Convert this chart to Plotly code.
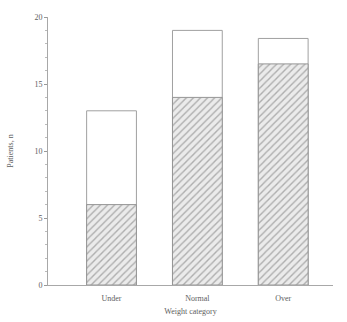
import plotly.graph_objects as go

# weight groups and patient counts
categories = ["Under", "Normal", "Over"]
total_patients = [13, 19, 18.4]
hatched_patients = [6, 14, 16.5]

txt = "#5e5e5e"

fig = go.Figure()

# full height bar, left white with a thin outline
fig.add_trace(go.Bar(
    x=categories, y=total_patients,
    marker=dict(color="white", line=dict(color="#a0a0a0", width=1)),
    width=0.58, showlegend=False, hoverinfo="skip",
))

# hatched part on the bottom
fig.add_trace(go.Bar(
    x=categories, y=hatched_patients,
    marker=dict(color="#ebebeb",
                line=dict(color="#959595", width=1),
                pattern=dict(shape="/", fgcolor="#707070", size=5, solidity=0.28)),
    width=0.58, showlegend=False, hoverinfo="skip",
))

fig.update_layout(
    barmode="overlay",
    width=347, height=322,
    margin=dict(l=48, r=14, t=17, b=37),
    plot_bgcolor="white", paper_bgcolor="white",
    font=dict(family="Liberation Serif", size=8, color=txt),
)

fig.update_xaxes(
    automargin=False,
    range=[-0.74, 2.58],
    showline=True, linecolor="#a8a8a8", linewidth=1,
    ticks="", showgrid=False, ticklabelstandoff=5,
    title=dict(text="Weight category", standoff=6, font=dict(size=8, color=txt)),
    tickfont=dict(size=8, color=txt),
)
fig.update_yaxes(
    automargin=False,
    range=[0, 20], tickvals=[0, 5, 10, 15, 20],
    showline=True, linecolor="#a8a8a8", linewidth=1,
    ticks="outside", ticklen=3, tickcolor="#999999",
    minor=dict(dtick=1, ticks="outside", ticklen=2, tickcolor="#bbbbbb"),
    showgrid=False, zeroline=False,
    title=dict(text="Patients, n", standoff=19, font=dict(size=8, color=txt)),
    tickfont=dict(size=8, color=txt),
)

# the page body has a default 8px margin, drop it so the figure sits at 0,0
fig.write_html("out.html", config={"displayModeBar": False},
               post_script="document.body.style.margin='0';")
